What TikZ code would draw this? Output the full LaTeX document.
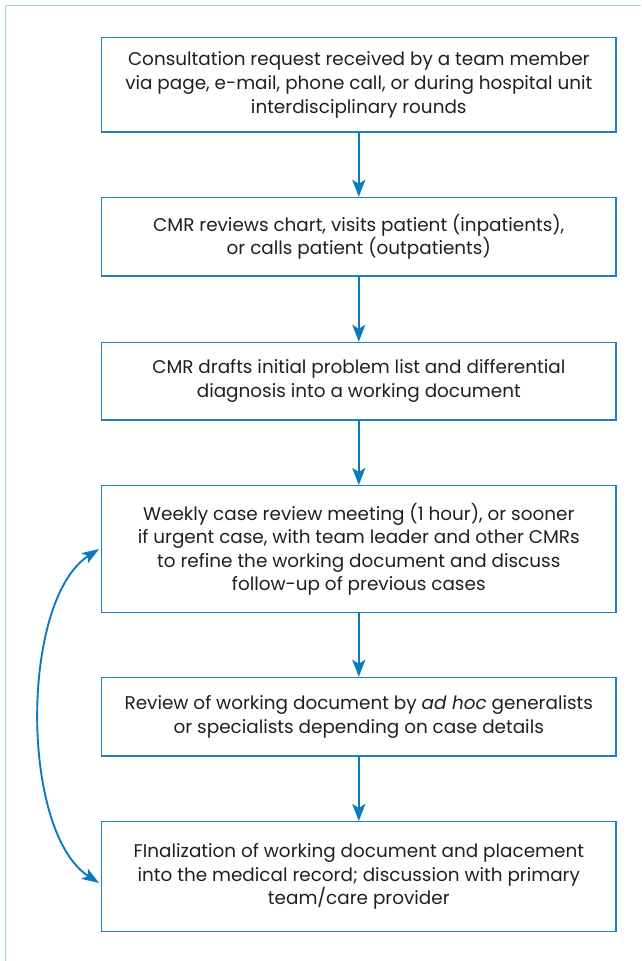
\documentclass[tikz,border=0pt]{standalone}
\usepackage{fontspec}
\setmainfont{Poppins}
\usetikzlibrary{arrows.meta}
\definecolor{boxblue}{HTML}{1B7DBF}
\definecolor{arrblue}{HTML}{0C7BBE}
\definecolor{framegreen}{HTML}{9BD8C6}
\definecolor{txt}{HTML}{231F20}
\tikzset{
  stepbox/.style={draw=boxblue, line width=1.3pt, fill=white, minimum width=514.5pt,
    inner sep=0pt, align=center, text=txt, font=\fontsize{18.4}{23.6}\selectfont},
  flow/.style={draw=arrblue, line width=2.4pt, -{Stealth[length=17pt,width=13pt,inset=4pt]}},
  loop/.style={draw=arrblue, line width=1.9pt, {Stealth[length=17pt,width=12pt,inset=4pt]}-{Stealth[length=17pt,width=12pt,inset=4pt]}}
}
\begin{document}
\begin{tikzpicture}[x=1pt,y=-1pt]
\useasboundingbox (0,0) rectangle (641,961);
\fill[white] (0,0) rectangle (641,961);
\draw[framegreen, line width=1.3pt] (5.7,961) -- (5.7,5.7) -- (641,5.7);
\node[stepbox, minimum height=94.5pt] (b1) at (358.8,84.8) {Consultation request received by a team member\\via page, e-mail, phone call, or during hospital unit\\interdisciplinary rounds};
\node[stepbox, minimum height=78.5pt] (b2) at (358.8,236.7) {CMR reviews chart, visits patient (inpatients),\\or calls patient (outpatients)};
\node[stepbox, minimum height=77.5pt] (b3) at (358.8,381.2) {CMR drafts initial problem list and differential\\diagnosis into a working document};
\node[stepbox, minimum height=127pt] (b4) at (358.8,549.2) {Weekly case review meeting (1 hour), or sooner\\if urgent case, with team leader and other CMRs\\to refine the working document and discuss\\follow-up of previous cases};
\node[stepbox, minimum height=78.5pt] (b5) at (358.8,716.7) {Review of working document by \textit{ad hoc} generalists\\or specialists depending on case details};
\node[stepbox, minimum height=110pt] (b6) at (358.8,876.7) {FInalization of working document and placement\\into the medical record; discussion with primary\\team/care provider};
\draw[flow] (b1) -- (b2);
\draw[flow] (b2) -- (b3);
\draw[flow] (b3) -- (b4);
\draw[flow] (b4) -- (b5);
\draw[flow] (b5) -- (b6);
\coordinate (la) at (99,549);
\coordinate (lb) at (99,883);
\draw[loop] (la) .. controls (20,600) and (20,832) .. (lb);
\end{tikzpicture}
\end{document}
